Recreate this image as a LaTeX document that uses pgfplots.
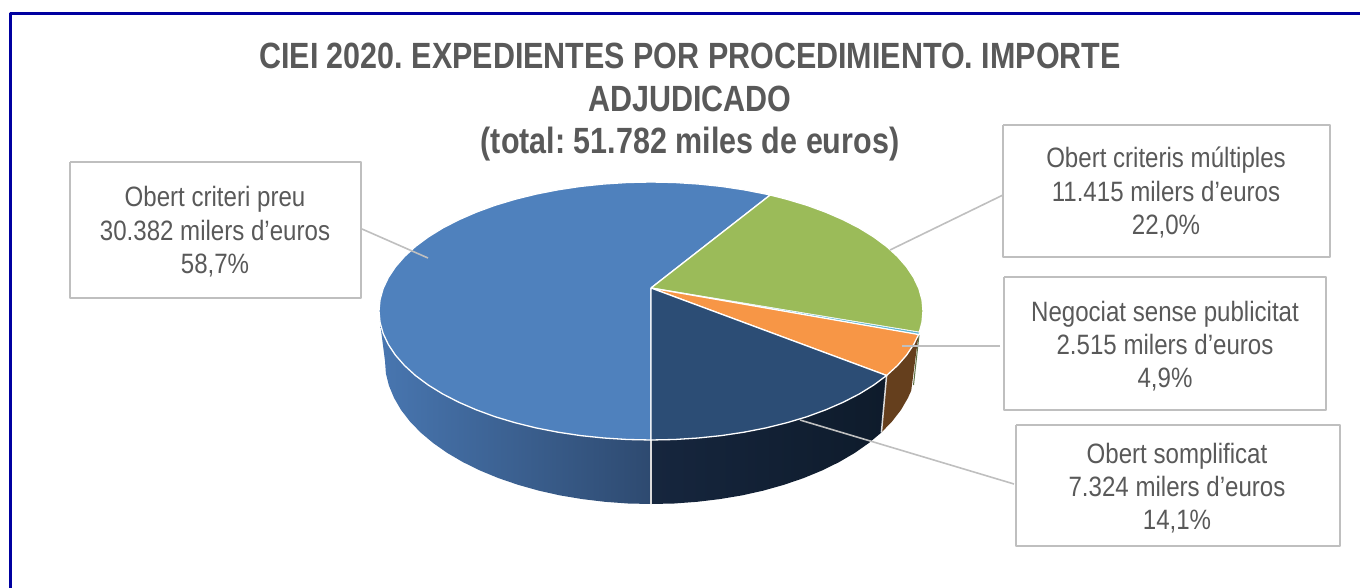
\documentclass[border=0pt]{standalone}
\usepackage{fontspec}
\usepackage{pgfplots}
\pgfplotsset{compat=1.18}
\setmainfont{Liberation Sans}
\newfontfamily\lfont[FakeStretch=0.86]{Liberation Sans}
\newfontfamily\tfont[FakeStretch=0.835,BoldFont={Liberation Sans Bold}]{Liberation Sans}
\frenchspacing
\definecolor{txt}{HTML}{595959}
\definecolor{boxc}{HTML}{BFBFBF}
\definecolor{frm}{HTML}{0000A0}
\definecolor{sideA}{RGB}{72,118,176}
\definecolor{sideB}{RGB}{46,74,112}
\definecolor{sideC}{RGB}{22,38,62}
\definecolor{sideD}{RGB}{14,27,43}
\definecolor{sideE}{RGB}{101,63,29}
\definecolor{sideF}{RGB}{95,115,70}
\definecolor{topA}{RGB}{79,129,189}
\definecolor{topB}{RGB}{155,187,89}
\definecolor{topC}{RGB}{90,180,210}
\definecolor{topD}{RGB}{247,150,70}
\definecolor{topE}{RGB}{44,77,117}
\definecolor{edge}{RGB}{220,220,220}
\newcommand{\lab}[5]{%
 \node[anchor=base,text=txt,font=\fontsize{28}{33}\lfont] at (axis cs:#1,#2) {#3};
 \node[anchor=base,text=txt,font=\fontsize{28}{33}\lfont] at (axis cs:#1,#2+33.3) {#4};
 \node[anchor=base,text=txt,font=\fontsize{28}{33}\lfont] at (axis cs:#1,#2+66.6) {#5};
}
\begin{document}
\begin{tikzpicture}
\path[use as bounding box] (0,0) rectangle (1360pt,588pt);
\begin{axis}[at={(0,0)},anchor=south west,scale only axis,width=1360pt,height=588pt,
 xmin=0,xmax=1360,ymin=0,ymax=588,y dir=reverse,hide axis,no markers,clip=true,
 every axis plot/.append style={line join=round}]
% frame
\addplot[draw=frm,line width=3pt] coordinates {(1360,13.5) (10,13.5) (10,588)};
% sides
\addplot[draw=none,left color=sideA,right color=sideB] coordinates {
(651,440)(627.3,439.5)(603.8,438)(580.6,435.6)(558,432.2)(536,427.9)(515,422.7)(495,416.7)(476.2,409.8)(458.7,402.2)(442.6,393.9)(428.2,385)(415.4,375.5)(404.5,365.5)(395.4,355.1)(388.3,344.4)(383.1,333.4)(380,322.2)
(385,361)(385.9,373.5)(389,385.8)(394.1,398)(401,409.9)(409.9,421.4)(420.6,432.5)(433.1,443)(447.2,452.9)(462.9,462.1)(480,470.5)(498.4,478.1)(518,484.8)(538.6,490.6)(560,495.4)(582.2,499.1)(604.8,501.8)(627.8,503.5)(651,504)(651,440)};
\addplot[draw=none,left color=sideC,right color=sideD] coordinates {
(651,440)(674.7,439.5)(698.2,438)(721.4,435.6)(744,432.2)(766,427.9)(787,422.7)(807,416.7)(825.8,409.8)(843.3,402.2)(859.4,393.9)(873.8,385)(886.6,375.5)
(881.4,432.5)(868.9,443)(854.8,452.9)(839.1,462.1)(822,470.5)(803.6,478.1)(784,484.8)(763.4,490.6)(742,495.4)(719.8,499.1)(697.2,501.8)(674.2,503.5)(651,504)(651,440)};
\addplot[draw=none,fill=sideE] coordinates {
(886.6,375.5)(897.5,365.5)(906.6,355.1)(913.7,344.4)(918.6,334.5)(911.2,390.7)(907.9,398)(901,409.9)(892.1,421.4)(881.4,432.5)(886.6,375.5)};
\addplot[draw=sideF,line width=1pt] coordinates {(919,335)(913.5,385)};
\addplot[draw=edge,line width=1.5pt] coordinates {(651,440)(651,504)};
\addplot[draw=edge,line width=1.5pt] coordinates {(886.6,375.5)(881.4,432.5)};
% top faces
\addplot[draw=white,line width=1.3pt,fill=topA] coordinates {
(651,288)(651,440)(627.3,439.5)(603.8,438)(580.6,435.6)(558,432.2)(536,427.9)(515,422.7)(495,416.7)(476.2,409.8)(458.7,402.2)(442.6,393.9)(428.2,385)(415.4,375.5)(404.5,365.5)(395.4,355.1)(388.3,344.4)(383.1,333.4)(380,322.2)(379,311)(380,299.8)(383.1,288.6)(388.3,277.6)(395.4,266.9)(404.5,256.5)(415.4,246.5)(428.2,237)(442.6,228.1)(458.7,219.8)(476.2,212.2)(495,205.3)(515,199.3)(536,194.1)(558,189.8)(580.6,186.4)(603.8,184)(627.3,182.5)(651,182)(674.7,182.5)(698.2,184)(721.4,186.4)(744,189.8)(766,194.1)(770.2,195)(651,288)};
\addplot[draw=white,line width=1.3pt,fill=topB] coordinates {
(651,288)(770.2,195)(787,199.3)(807,205.3)(825.8,212.2)(843.3,219.8)(859.4,228.1)(873.8,237)(886.6,246.5)(897.5,256.5)(906.6,266.9)(913.7,277.6)(918.9,288.6)(922,299.8)(923,311)(922,322.2)(919.3,332.3)(651,288)};
\addplot[draw=white,line width=0.4pt,fill=topC] coordinates {
(651,288)(919.3,332.3)(918.6,334.5)(651,288)};
\addplot[draw=white,line width=1.3pt,fill=topD] coordinates {
(651,288)(918.6,334.5)(913.7,344.4)(906.6,355.1)(897.5,365.5)(886.6,375.5)(651,288)};
\addplot[draw=white,line width=1.3pt,fill=topE] coordinates {
(651,288)(886.6,375.5)(873.8,385)(859.4,393.9)(843.3,402.2)(825.8,409.8)(807,416.7)(787,422.7)(766,427.9)(744,432.2)(721.4,435.6)(698.2,438)(674.7,439.5)(651,440)(651,288)};
% leaders
\addplot[draw=boxc,line width=1.6pt] coordinates {(362,229)(428,258)};
\addplot[draw=boxc,line width=1.6pt] coordinates {(1003,195)(890,250)};
\addplot[draw=boxc,line width=1.6pt] coordinates {(1000,346)(902,346)};
\addplot[draw=boxc,line width=1.6pt] coordinates {(1014,484)(800,420)};
% boxes
\addplot[draw=boxc,line width=2pt] coordinates {(70,162)(361,162)(361,298)(70,298)(70,162)};
\addplot[draw=boxc,line width=2pt] coordinates {(1003,125)(1330,125)(1330,257)(1003,257)(1003,125)};
\addplot[draw=boxc,line width=2pt] coordinates {(1004,277)(1326,277)(1326,410)(1004,410)(1004,277)};
\addplot[draw=boxc,line width=2pt] coordinates {(1016,425)(1340,425)(1340,546)(1016,546)(1016,425)};
% title
\node[anchor=base,text=txt,font=\fontsize{36.5}{42}\tfont\bfseries] at (axis cs:690,69) {CIEI 2020. EXPEDIENTES POR PROCEDIMIENTO. IMPORTE};
\node[anchor=base,text=txt,font=\fontsize{36.5}{42}\tfont\bfseries] at (axis cs:690,111.5) {ADJUDICADO};
\node[anchor=base,text=txt,font=\fontsize{36.5}{42}\tfont\bfseries] at (axis cs:690,154) {(total: 51.782 miles de euros)};
% labels
\lab{215}{207}{Obert criteri preu}{30.382 milers d’euros}{58,7\%}
\lab{1166}{168}{Obert criteris múltiples}{11.415 milers d’euros}{22,0\%}
\lab{1165}{321}{Negociat sense publicitat}{2.515 milers d’euros}{4,9\%}
\lab{1177}{463}{Obert somplificat}{7.324 milers d’euros}{14,1\%}
\end{axis}
\end{tikzpicture}
\end{document}
